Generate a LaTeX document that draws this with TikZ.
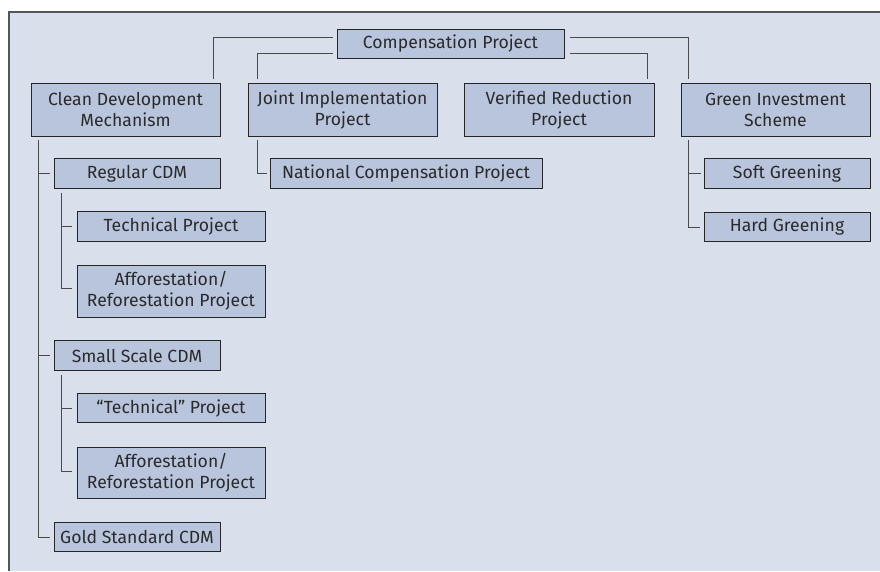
\documentclass[tikz,border=0pt]{standalone}
\usepackage{fontspec}
\setmainfont{Fira Sans}
\usetikzlibrary{calc}
\definecolor{bgc}{HTML}{D9DFEB}
\definecolor{boxc}{HTML}{B9C5DD}
\definecolor{framec}{HTML}{555555}
\definecolor{linec}{HTML}{4A4A4A}
\definecolor{textc}{HTML}{2A2A2A}
\begin{document}
\begin{tikzpicture}[x=1pt,y=-1pt,
  box/.style={draw=textc!90!black,line width=0.9pt,fill=boxc,inner sep=0pt,text=textc,
    font=\fontsize{17.6}{21}\selectfont,align=center,minimum height=29.5pt},
  tall/.style={minimum height=53pt},
  conn/.style={draw=linec,line width=1pt}]
\useasboundingbox (0,0) rectangle (880,571);
\fill[bgc] (9,12) rectangle (880,571);
\draw[framec,line width=2pt] (9,571) -- (9,12) -- (880,12);

\node[box,minimum width=227pt] (comp) at (450.5,44) {Compensation Project};
\node[box,tall,minimum width=189pt] (cdm) at (125.5,109.5) {Clean Development\\Mechanism};
\node[box,tall,minimum width=189pt] (ji) at (342.5,109.5) {Joint Implementation\\Project};
\node[box,tall,minimum width=190pt] (vr) at (559,109.5) {Verified Reduction\\Project};
\node[box,tall,minimum width=189pt] (gis) at (775.5,109.5) {Green Investment\\Scheme};

\node[box,minimum width=166pt] (reg) at (137,173.5) {Regular CDM};
\node[box,minimum width=272pt] (ncp) at (406,173.5) {National Compensation Project};
\node[box,minimum width=166pt] (soft) at (787,173.5) {Soft Greening};
\node[box,minimum width=166pt] (hard) at (787,227) {Hard Greening};

\node[box,minimum width=188pt] (tech1) at (171,226.5) {Technical Project};
\node[box,tall,minimum height=52pt,minimum width=188pt] (aff1) at (171,291) {Afforestation/\\Reforestation Project};
\node[box,minimum width=166pt] (ssc) at (137,355.5) {Small Scale CDM};
\node[box,minimum width=188pt] (tech2) at (171,408) {“Technical” Project};
\node[box,tall,minimum height=51pt,minimum width=188pt] (aff2) at (171,472.5) {Afforestation/\\Reforestation Project};
\node[box,minimum width=166pt] (gold) at (137,537) {Gold Standard CDM};

% top-level connectors
\draw[conn,shorten >=4pt] ($(comp.west)+(-4,-7)$) -| ($(cdm.north east)+(-7,0)$);
\draw[conn,shorten >=4pt] ($(comp.west)+(-4,9)$) -| ($(ji.north west)+(10,0)$);
\draw[conn,shorten >=4pt] ($(comp.east)+(6,-7)$) -| ($(gis.north west)+(8,0)$);
\draw[conn,shorten >=4pt] ($(comp.east)+(6,9)$) -| ($(vr.north east)+(-7,0)$);

% CDM trunk
\coordinate (t1) at ($(cdm.south west)+(8,4)$);
\draw[conn] (t1) |- ($(gold.west)+(-4,0)$);
\draw[conn] (reg.west -| t1) -- ($(reg.west)+(-4,0)$);
\draw[conn] (ssc.west -| t1) -- ($(ssc.west)+(-4,0)$);

% Regular CDM branch
\coordinate (t2) at ($(reg.south west)+(8,4)$);
\draw[conn] (t2) |- ($(aff1.west)+(-5,-3)$);
\draw[conn] (tech1.west -| t2) -- ($(tech1.west)+(-5,0)$);

% Small scale branch
\coordinate (t3) at ($(ssc.south west)+(8,4)$);
\draw[conn] (t3) |- ($(aff2.west)+(-5,-1)$);
\draw[conn] (tech2.west -| t3) -- ($(tech2.west)+(-5,0)$);

% JI branch
\coordinate (t4) at ($(ji.south west)+(10,4)$);
\draw[conn] (t4) |- ($(ncp.west)+(-3,0)$);

% GIS branch
\coordinate (t5) at ($(gis.south west)+(8,4)$);
\draw[conn] (t5) |- ($(hard.west)+(-4,0)$);
\draw[conn] (soft.west -| t5) -- ($(soft.west)+(-3,0)$);
\end{tikzpicture}
\end{document}
